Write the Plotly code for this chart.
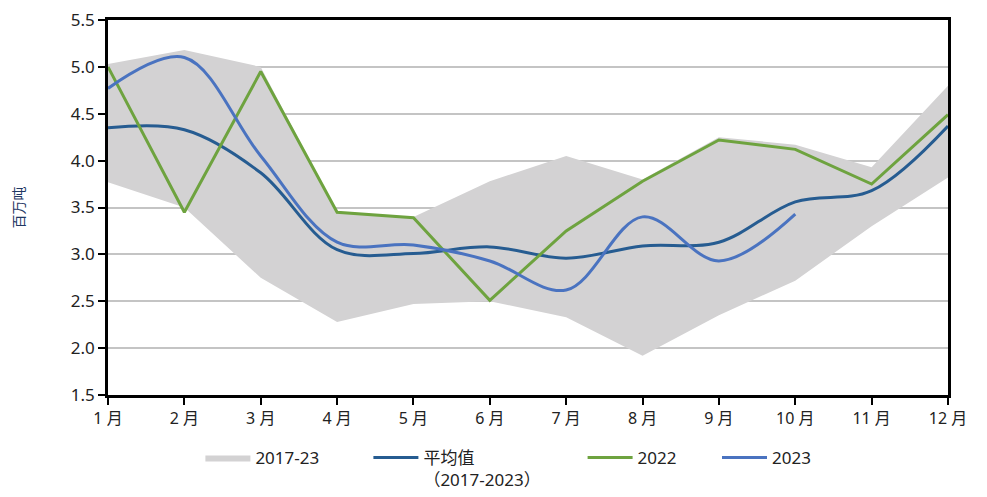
import plotly.graph_objects as go

months = ["1 月", "2 月", "3 月", "4 月", "5 月", "6 月", "7 月", "8 月", "9 月", "10 月", "11 月", "12 月"]
band_low = [3.77, 3.50, 2.75, 2.28, 2.47, 2.50, 2.33, 1.92, 2.35, 2.72, 3.30, 3.82]
band_high = [5.03, 5.18, 5.00, 3.45, 3.40, 3.78, 4.05, 3.80, 4.25, 4.17, 3.93, 4.80]
avg_2017_2023 = [4.35, 4.33, 3.87, 3.05, 3.01, 3.08, 2.96, 3.09, 3.13, 3.56, 3.68, 4.37]
y2022 = [5.00, 3.45, 4.95, 3.45, 3.39, 2.51, 3.25, 3.78, 4.22, 4.12, 3.75, 4.49]
y2023 = [4.77, 5.10, 4.05, 3.13, 3.10, 2.93, 2.62, 3.40, 2.93, 3.43]

font_main = "Noto Sans, Noto Sans CJK SC, sans-serif"

fig = go.Figure()
fig.add_trace(go.Scatter(x=months, y=band_low, mode="lines", line=dict(width=0),
                         showlegend=False, hoverinfo="skip"))
fig.add_trace(go.Scatter(x=months, y=band_high, mode="lines", line=dict(width=0),
                         fill="tonexty", fillcolor="#D3D2D3", name="2017-23", legend="legend"))
fig.add_trace(go.Scatter(x=months, y=avg_2017_2023, mode="lines", line=dict(color="#265C91", width=3, shape="spline"),
                         name="平均值<br>（2017-2023）", legend="legend2"))
fig.add_trace(go.Scatter(x=months, y=y2022, mode="lines", line=dict(color="#6EA33F", width=3),
                         name="2022", legend="legend3"))
fig.add_trace(go.Scatter(x=months[:len(y2023)], y=y2023, mode="lines",
                         line=dict(color="#4A73C0", width=3, shape="spline"),
                         name="2023", legend="legend4"))

# page body has an 8px margin, so margins are shifted to compensate
leg = dict(orientation="h", yanchor="top", xanchor="left", y=-0.12, valign="top", itemwidth=45,
           font=dict(family=font_main, size=17, color="#222"), bgcolor="rgba(0,0,0,0)")
fig.update_layout(
    width=987, height=497,
    margin=dict(l=100, r=47, t=12, b=110, autoexpand=False),
    plot_bgcolor="white", paper_bgcolor="white",
    legend=dict(leg, x=0.11),
    legend2=dict(leg, x=0.31),
    legend3=dict(leg, x=0.565),
    legend4=dict(leg, x=0.725),
)
fig.update_xaxes(
    range=[0, 11], showline=True, linecolor="black", linewidth=2.5, mirror=True, automargin=False,
    ticks="outside", ticklen=7, tickwidth=2, tickcolor="black", showgrid=False,
    tickfont=dict(family=font_main, size=16, color="#222"), ticklabeloverflow="allow",
)
fig.update_yaxes(
    range=[1.5, 5.5], dtick=0.5, tickformat=".1f", showline=True, linecolor="black", linewidth=2.5, mirror=True,
    automargin=False, ticks="outside", ticklen=7, tickwidth=2, tickcolor="black",
    showgrid=True, gridcolor="#C4C4C4", gridwidth=2, ticklabeloverflow="allow",
    tickfont=dict(family=font_main, size=17, color="#222"),
    title=dict(text="百万吨", font=dict(family="Noto Sans CJK SC", size=14, color="#1F3864"), standoff=44),
)
fig.write_html("out.html")
